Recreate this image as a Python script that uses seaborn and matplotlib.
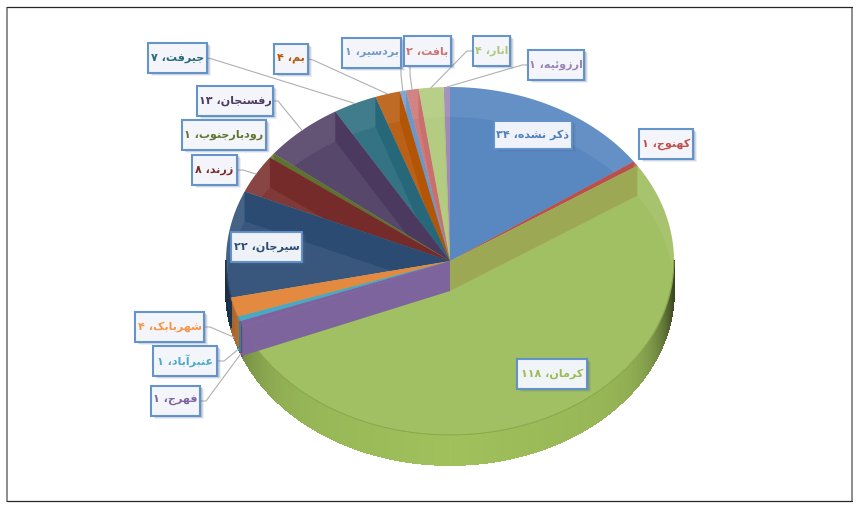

# ==========================================
# 3D style pie with Persian labels
# ==========================================

import numpy as np
import matplotlib
matplotlib.use("Agg")
import matplotlib.pyplot as plt
import seaborn as sns
from matplotlib.patches import Rectangle, Polygon

# ------------------------------------------
# Data
# ------------------------------------------

cities = ["ذکر نشده", "کهنوج", "کرمان", "فهرج", "عنبرآباد", "شهربابک", "سیرجان", "زرند",
          "رودبارجنوب", "رفسنجان", "جیرفت", "بم", "بردسیر", "بافت", "انار", "ارزوئیه"]
counts = [34, 1, 118, 1, 1, 4, 22, 8, 1, 13, 7, 4, 1, 2, 4, 1]
colors = ["#4F81BD", "#C0504D", "#9BBB59", "#8064A2", "#4BACC6", "#F79646", "#2C4D75", "#772C2A",
          "#5F7530", "#4D3B62", "#276A7C", "#B65708", "#729ACA", "#CD7371", "#AFC97A", "#9983B5"]

# label boxes: left, top, right, bottom in pixels
boxes = [(494, 121, 572, 149), (639, 129, 693, 159), (517, 359, 587, 389), (151, 386, 200, 416),
         (153, 346, 217, 376), (135, 312, 204, 342), (231, 232, 302, 262), (192, 155, 237, 185),
         (182, 120, 266, 150), (197, 86, 273, 116), (148, 43, 207, 73), (274, 44, 308, 74),
         (342, 38, 401, 68), (404, 36, 451, 66), (473, 36, 510, 66), (528, 50, 584, 80)]

# leader lines: start point, elbow point, on bottom rim or not
leaders = {3: ((200, 401), (206, 401), True), 4: ((217, 361), (224, 361), True),
           5: ((204, 327), (210, 327), True), 7: ((237, 170), (243, 170), False),
           9: ((273, 101), (278, 101), False), 10: ((207, 58), (212, 59), False),
           11: ((308, 59), (313, 60), False), 12: ((401, 68), (401, 75), False),
           13: ((410, 66), (410, 75), False), 14: ((473, 51), (467, 51), False),
           15: ((528, 65), (522, 65), False)}

# order the slices get painted in, purple ends up over the big green one
paint_order = [0, 1, 2, 15, 14, 13, 12, 11, 10, 9, 8, 7, 6, 5, 4, 3]

# ------------------------------------------
# Persian text: matplotlib does no shaping
# ------------------------------------------

# isolated, final, initial, medial
FORMS = {"ا": "\uFE8D\uFE8E", "آ": "\uFE81\uFE82", "د": "\uFEA9\uFEAA", "ذ": "\uFEAB\uFEAC",
         "ر": "\uFEAD\uFEAE", "ز": "\uFEAF\uFEB0", "و": "\uFEED\uFEEE",
         "ب": "\uFE8F\uFE90\uFE91\uFE92", "ت": "\uFE95\uFE96\uFE97\uFE98", "ج": "\uFE9D\uFE9E\uFE9F\uFEA0",
         "س": "\uFEB1\uFEB2\uFEB3\uFEB4", "ش": "\uFEB5\uFEB6\uFEB7\uFEB8", "ع": "\uFEC9\uFECA\uFECB\uFECC",
         "ف": "\uFED1\uFED2\uFED3\uFED4", "ک": "\uFB8E\uFB8F\uFB90\uFB91", "م": "\uFEE1\uFEE2\uFEE3\uFEE4",
         "ن": "\uFEE5\uFEE6\uFEE7\uFEE8", "ه": "\uFEE9\uFEEA\uFEEB\uFEEC", "ی": "\uFBFC\uFBFD\uFBFE\uFBFF",
         "ئ": "\uFE89\uFE8A\uFE8B\uFE8C"}


def shape(word):
    out = []
    for i, ch in enumerate(word):
        forms = FORMS.get(ch)
        if forms is None:
            out.append(ch)
            continue
        prev = word[i - 1] if i > 0 else ""
        nxt = word[i + 1] if i + 1 < len(word) else ""
        joins_prev = prev in FORMS and len(FORMS[prev]) == 4
        joins_next = nxt in FORMS and len(forms) == 4
        if joins_prev and joins_next:
            out.append(forms[3])
        elif joins_prev:
            out.append(forms[1])
        elif joins_next:
            out.append(forms[2])
        else:
            out.append(forms[0])
    return "".join(reversed(out))


def label_text(name, value):
    digits = str(value).translate(str.maketrans("0123456789", "۰۱۲۳۴۵۶۷۸۹"))
    return digits + " ،" + shape(name)


# ------------------------------------------
# Figure
# ------------------------------------------

sns.set_theme(style="white")
plt.rcParams["font.family"] = ["DejaVu Sans"]
palette = sns.color_palette(colors)

fig = plt.figure(figsize=(8.6, 5.11), dpi=100)
ax = fig.add_axes([0, 0, 1, 1])
ax.set_xlim(0, 860)
ax.set_ylim(511, 0)
ax.axis("off")

# frame: grey sides, dark top and bottom
ax.plot([7, 7], [7, 502], color="#8C8C8C", lw=1.4, solid_capstyle="butt")
ax.plot([851.5, 851.5], [7, 502], color="#8C8C8C", lw=1.4, solid_capstyle="butt")
ax.plot([7, 852], [7.5, 7.5], color="#262626", lw=0.9)
ax.plot([7, 852], [501.5, 501.5], color="#262626", lw=0.9)

cx, cy, rx, ry, depth = 450, 261, 224, 174, 30
edges = np.cumsum([0] + counts) / sum(counts) * 2 * np.pi


def rim(t, dy=0):
    return cx + rx * np.sin(t), cy - ry * np.cos(t) + dy


def sector(a, b, dy=0):
    t = np.linspace(a, b, max(int((b - a) * 60), 3))
    x, y = rim(t, dy)
    return np.r_[cx, x], np.r_[cy + dy, y]


def shaded(color, f):
    return tuple(min(c * f, 1) for c in color)


def wall(t, color, clip=None, alpha=1.0):
    x, y = rim(t)
    parts = ax.fill([cx, x, x, cx], [cy, y, y + depth, cy + depth],
                    color=color, alpha=alpha, lw=0, zorder=3)
    if clip is not None:
        parts[0].set_clip_path(clip)


# outer side first, only the front half shows
for i, color in enumerate(palette):
    lo, hi = max(edges[i], np.pi / 2), min(edges[i + 1], 3 * np.pi / 2)
    if lo >= hi:
        continue
    steps = np.linspace(lo, hi, max(int((hi - lo) * 120), 2))
    for s0, s1 in zip(steps[:-1], steps[1:]):
        side = np.sin((s0 + s1) / 2)
        f = 1.03 - 0.08 * abs(side) - (0.6 * side ** 12 if side > 0 else 0.35 * side ** 8)
        x0, y0 = rim(s0)
        x1, y1 = rim(s1)
        ax.fill([x0, x1, x1, x0], [y0, y1, y1 + depth, y0 + depth],
                color=shaded(color, f), ec=shaded(color, f), lw=0.6, antialiased=False, zorder=2)

# slices: bottom and walls stay inside the slice and show through the top
for i in paint_order:
    color = palette[i]
    if i == 5:
        color = shaded(color, 0.94)
    a, b = edges[i], edges[i + 1]
    outline = Polygon(np.c_[sector(a, b)], transform=ax.transData)

    low = ax.fill(*sector(a, b, depth), color=color, alpha=0.5, lw=0, zorder=3)
    low[0].set_clip_path(outline)
    wall(a, shaded(color, 0.85), clip=outline)
    wall(b, shaded(color, 0.85), clip=outline)
    ax.fill(*sector(a, b), color=color, alpha=0.88, lw=0, zorder=3)

    lo, hi = max(a, np.pi / 2), min(b, 3 * np.pi / 2)
    if lo < hi:
        ax.plot(*rim(np.linspace(lo, hi, 200)), color=shaded(color, 0.88), lw=0.6, zorder=3)

    # red shows through green along their shared edge
    if i == 2:
        wall(a, palette[1], clip=outline, alpha=0.14)

# front wall of the purple slice sits over the green one
wall(edges[3], shaded(palette[3], 0.98), alpha=0.97)

# leader lines end on the slice middle
for i, (start, elbow, bottom) in leaders.items():
    end = rim((edges[i] + edges[i + 1]) / 2, depth if bottom else 0)
    ax.plot([start[0], elbow[0], end[0]], [start[1], elbow[1], end[1]],
            color="#B0B0B0", lw=0.8, zorder=4)

# label boxes with a soft shadow
for i, (x0, y0, x1, y1) in enumerate(boxes):
    for off, al in [(3.5, 0.10), (2.5, 0.16), (1.5, 0.22)]:
        ax.add_patch(Rectangle((x0 + off, y0 + off), x1 - x0, y1 - y0, fc="#4F6A8F", ec="none",
                               alpha=al, zorder=5))
    ax.add_patch(Rectangle((x0, y0), x1 - x0, y1 - y0, fc="#F6F8FC", ec="#5F8FC9", lw=1.5,
                           alpha=0.96, zorder=6))
    ax.text((x0 + x1) / 2, (y0 + y1) / 2, label_text(cities[i], counts[i]), color=palette[i],
            ha="center", va="center", fontsize=8, fontweight="bold", zorder=7)

fig.savefig("out.png", dpi=100, facecolor="white")
